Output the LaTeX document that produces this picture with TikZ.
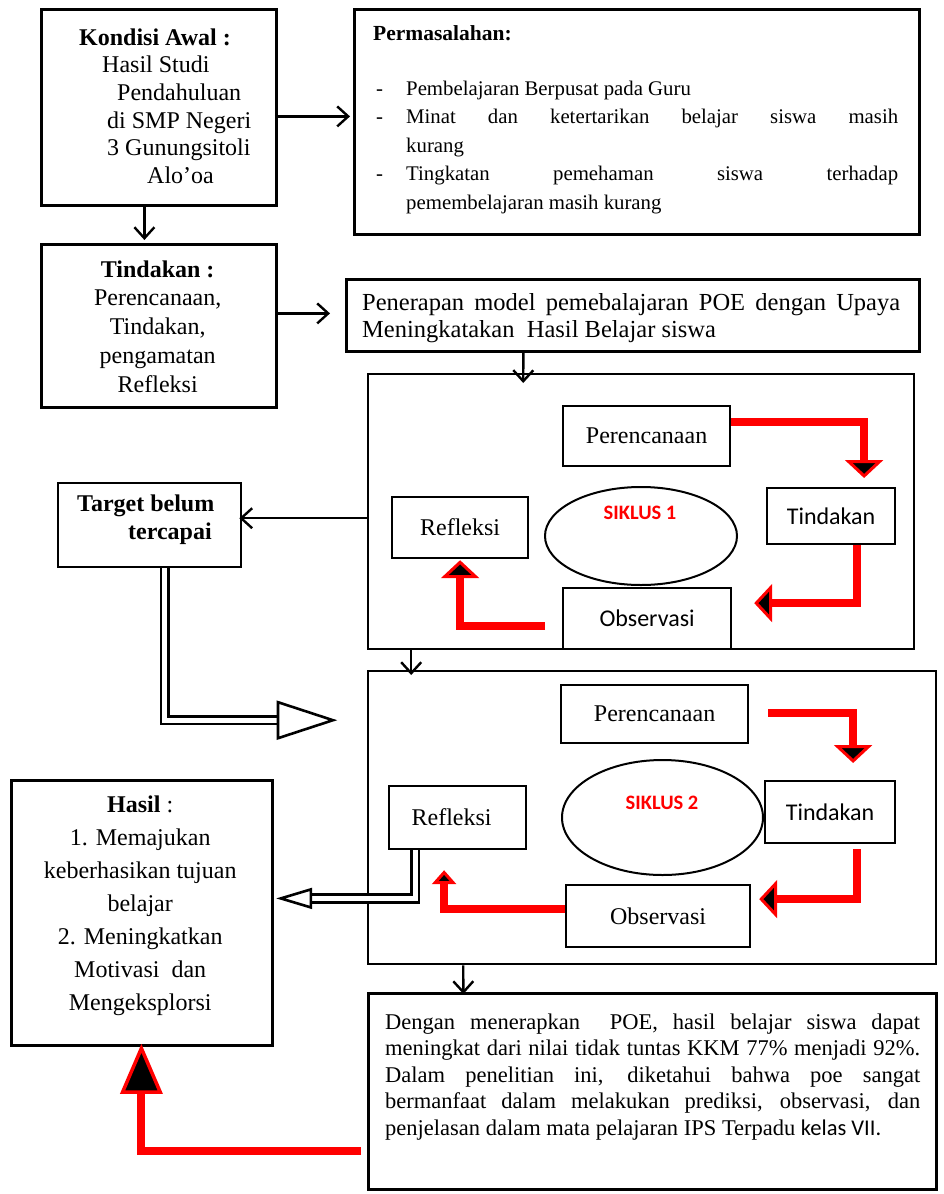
\documentclass[tikz,border=0pt]{standalone}
\usepackage{fontspec}
\setmainfont{Liberation Serif}
\newfontfamily\calfont{Carlito}
\usetikzlibrary{arrows.meta,calc,shapes.geometric}

\begin{document}
\begin{tikzpicture}[x=1pt,y=-1pt,
  box/.style={draw,anchor=north west,inner sep=0pt,line width=2.8pt},
  ibox/.style={draw,anchor=north west,inner sep=0pt,line width=2.2pt},
  tnr/.style={font=\fontsize{24}{28}\selectfont},
  cal/.style={font=\calfont\fontsize{24}{28}\selectfont},
  txt/.style={inner sep=0pt,anchor=base west},
  arr/.style={line width=2.4pt,-{Straight Barb[length=11pt,width=20pt,line width=2.4pt]}},
  redarr/.style={draw=red,line width=8pt,line join=miter,
    -{Triangle[length=18pt,width=38pt,fill=black,line width=3pt]}},
  redsmall/.style={draw=red,line width=8pt,line join=miter,
    -{Triangle[length=14pt,width=24pt,fill=black,line width=3pt]}},
  redbig/.style={draw=red,line width=8pt,line join=miter,
    -{Triangle[length=50pt,width=42pt,fill=black,line width=3.5pt]}},
  dbl/.style={draw=black,line width=2.6pt,double=white,double distance=5pt,line join=miter},
  openhead/.style={draw=black,fill=white,line width=2.6pt,line join=miter},
  oval/.style={draw,ellipse,line width=2pt,inner sep=0pt},
  sik/.style={text=red,font=\calfont\bfseries\fontsize{20.5}{21}\selectfont,inner sep=0pt}
]
\fill[white] (0,0) rectangle (943,1194);
\useasboundingbox (0,0) rectangle (943,1194);

% ---------- boxes ----------
\node[box,minimum width=235pt,minimum height=196pt] (K) at (40,8) {};
\node[box,minimum width=565pt,minimum height=225pt] (PM) at (353,8) {};
\node[box,minimum width=235pt,minimum height=163pt] (TD) at (40,243) {};
\node[box,minimum width=573pt,minimum height=72pt] (PN) at (345,278) {};
\node[box,line width=2.4pt,minimum width=546pt,minimum height=275pt] (S1) at (367,373) {};
\node[box,line width=2.4pt,minimum width=183pt,minimum height=84pt] (TG) at (57,482) {};
\node[box,line width=2.4pt,minimum width=568pt,minimum height=293pt] (S2) at (367,670) {};
\node[box,minimum width=261pt,minimum height=265pt] (H) at (10,779) {};
\node[box,minimum width=568pt,minimum height=196pt] (F) at (367,992) {};

% ---------- cycle 1 ----------
\node[ibox,tnr,minimum width=167pt,minimum height=60pt] (P1) at (562,405) {Perencanaan};
\node[ibox,cal,minimum width=128pt,minimum height=56pt] (T1) at (766,487) {Tindakan};
\node[ibox,tnr,minimum width=136pt,minimum height=61pt] (R1) at (391,496) {Refleksi};
\node[ibox,cal,minimum width=168pt,minimum height=61pt] (O1) at (562,587) {Observasi};
\node[oval,minimum width=192pt,minimum height=98pt] (E1) at (641,536) {};
\node[sik] (E1t) at (640,513) {SIKLUS 1};

% ---------- cycle 2 ----------
\node[ibox,tnr,minimum width=187pt,minimum height=58pt] (P2) at (560,684) {Perencanaan};
\node[ibox,cal,minimum width=130pt,minimum height=62pt] (T2) at (764,780) {Tindakan};
\node[ibox,tnr,minimum width=137pt,minimum height=63pt] (R2) at (388,785) {\hspace*{-12pt}Refleksi};
\node[ibox,tnr,minimum width=184pt,minimum height=62pt] (O2) at (565,884) {Observasi};
\node[oval,minimum width=201pt,minimum height=115pt] (E2) at (662.5,817.5) {};
\node[sik] (E2t) at (662,803) {SIKLUS 2};

% ---------- texts ----------
\node[txt] (Kt) at (79,45)
 {\parbox[t]{200pt}{\fontsize{24}{27.7}\selectfont\raggedright
  \textbf{Kondisi Awal :}\\
  \hspace*{23pt}Hasil Studi\\
  \hspace*{38pt}Pendahuluan\\
  \hspace*{28pt}di SMP Negeri\\
  \hspace*{28pt}3 Gunungsitoli\\
  \hspace*{68pt}Alo’oa}};

\node[txt,font=\fontsize{21.5}{28.5}\selectfont\bfseries] (PMt) at (373,40) {Permasalahan:};
\node[txt] (PMl) at (376,95)
 {\parbox[t]{522pt}{\fontsize{20.8}{28.5}\selectfont
  \hangindent=30pt\hangafter=1\noindent\makebox[30pt][l]{-}Pembelajaran Berpusat pada Guru\par
  \hangindent=30pt\hangafter=1\noindent\makebox[30pt][l]{-}Minat dan ketertarikan belajar siswa masih\linebreak kurang\par
  \hangindent=30pt\hangafter=1\noindent\makebox[30pt][l]{-}Tingkatan pemehaman siswa terhadap\linebreak pemembelajaran masih kurang}};

\node[txt] (PNt) at (362,310)
 {\parbox[t]{538pt}{\fontsize{24.5}{27}\selectfont
  Penerapan model pemebalajaran POE dengan Upaya\linebreak Meningkatakan\ \ Hasil Belajar siswa}};

\node[txt] (TDt) at (42.5,277)
 {\parbox[t]{230pt}{\fontsize{24}{28.8}\selectfont\centering
  \textbf{Tindakan :}\\Perencanaan,\\Tindakan,\\pengamatan\\Refleksi}};

\node[txt] (TGt) at (77,511)
 {\parbox[t]{170pt}{\fontsize{24}{28}\selectfont\bfseries\raggedright
  Target belum\\\hspace*{51pt}tercapai}};

\node[txt] (Ht) at (15,812)
 {\parbox[t]{250pt}{\fontsize{24}{33}\selectfont\centering
  \textbf{Hasil} :\\1. Memajukan\\keberhasikan tujuan\\belajar\\2. Meningkatkan\\Motivasi\ \ dan\\Mengeksplorsi}};

\node[txt] (Ft) at (385,1029)
 {\parbox[t]{535pt}{\fontsize{22.5}{26.6}\selectfont
  Dengan menerapkan\ \ POE, hasil belajar siswa dapat\linebreak
  meningkat dari nilai tidak tuntas KKM 77\% menjadi 92\%.\linebreak
  Dalam penelitian ini, diketahui bahwa poe sangat\linebreak
  bermanfaat dalam melakukan prediksi, observasi, dan\linebreak
  penjelasan dalam mata pelajaran IPS Terpadu {\calfont kelas VII.}}};

% ---------- black arrows ----------
\draw[arr] ($(K.east)+(-3,9)$) -- ($(PM.west)+(-3,-5.5)$);
\draw[arr] ($(K.south)+(-14.5,0)$) -- ($(TD.north)+(-14.5,-3)$);
\draw[arr] ($(TD.east)+(0,-12.5)$) -- ($(PN.west)+(-15,-2)$);
\draw[arr] ($(PN.south)+(-109.5,0)$) -- ($(S1.north)+(-118,10)$);
\draw[arr] ($(S1.west)+(0,6.5)$) -- ($(TG.east)+(-3,-7)$);
\draw[arr] ($(S1.south)+(-230,0)$) -- ($(S2.north)+(-241,5)$);
\draw[arr] ($(S2.south)+(-189,0)$) -- ($(F.north)+(-189,2)$);

% ---------- red cycle arrows ----------
\draw[redarr] ($(P1.east)+(0,-14)$) -| ($(T1.north)+(33,-9)$);
\draw[redarr] ($(T1.south)+(26,0)$) |- ($(O1.east)+(22,-15.5)$);
\draw[redarr] ($(O1.west)+(-17,7)$) -| ($(R1.south)+(0,1)$);

\draw[redarr] ($(P2.east)+(19,-1)$) -| ($(T2.north)+(23,-17)$);
\draw[redarr] ($(T2.south)+(27,5)$) |- ($(O2.east)+(8,-17)$);
\draw[redsmall] ($(O2.west)+(0,-7)$) -| ($(R2.south)+(-13.5,20)$);

\draw[redbig] ($(F.west)+(-6,60)$) -| ($(H.south)+(-0.5,-3)$);

% ---------- double arrows ----------
\coordinate (tgEnd) at ($(S2.west)+(-89,-97.5)$);
\draw[dbl] ($(TG.south)+(15,0)$) |- (tgEnd);
\draw[openhead] ($(tgEnd)+(0,-18)$) -- ($(tgEnd)+(55,0)$) -- ($(tgEnd)+(0,18)$) -- cycle;

\coordinate (hEnd) at ($(H.east)+(37,-14.5)$);
\draw[dbl] ($(R2.south)+(-42.5,0)$) |- (hEnd);
\draw[openhead] ($(hEnd)+(0,-9)$) -- ($(hEnd)+(-30,0)$) -- ($(hEnd)+(0,9)$) -- cycle;
\end{tikzpicture}
\end{document}
